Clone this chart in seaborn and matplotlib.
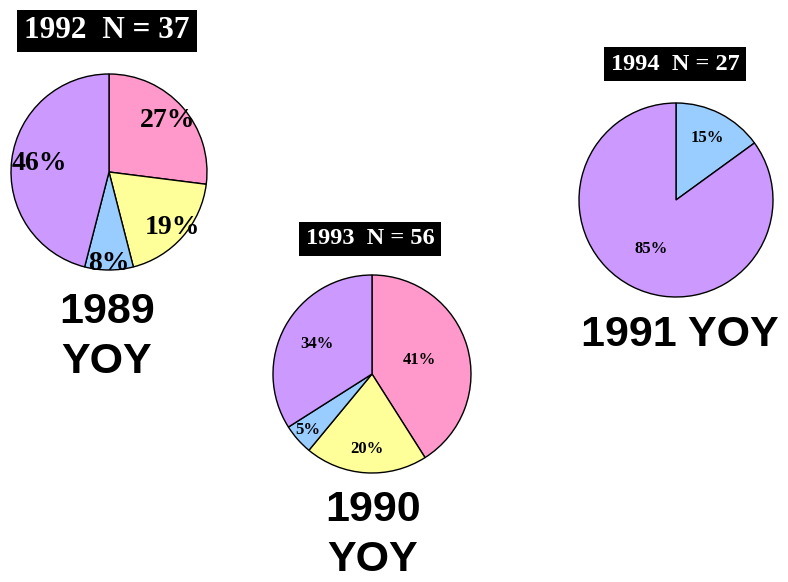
import matplotlib
matplotlib.use("Agg")
import matplotlib.pyplot as plt
import seaborn as sns

# catch composition per survey year (clockwise from 12 o'clock)
cats_1989 = ["pink", "yellow", "blue", "purple"]
pct_1989 = [27, 19, 8, 46]
cats_1990 = ["pink", "yellow", "blue", "purple"]
pct_1990 = [41, 20, 5, 34]
cats_1991 = ["blue", "purple"]
pct_1991 = [15, 85]

titles = ["1992  N = 37", "1993  N = 56", "1994  N = 27"]
names = ["1989\nYOY", "1990\nYOY", "1991 YOY"]

sns.set_theme(style="white")
plt.rcParams['font.family'] = ['Liberation Serif', 'DejaVu Serif']

colors = {"pink": "#FF99CC", "yellow": "#FFFF99", "blue": "#99CCFF", "purple": "#CC99FF"}

W, H = 788, 582
fig = plt.figure(figsize=(W / 100, H / 100), dpi=100)
fig.patch.set_facecolor("white")


def px_axes(cx, cy, r):
    return fig.add_axes([(cx - r) / W, (H - cy - r) / H, 2 * r / W, 2 * r / H])


def draw_pie(cx, cy, r, cats, vals, fsize, dists):
    ax = px_axes(cx, cy, r)
    wedges, _, autotexts = ax.pie(
        vals, colors=[colors[c] for c in cats], startangle=90, counterclock=False,
        autopct=lambda p: f"{p:.0f}%", pctdistance=1.0,
        wedgeprops=dict(edgecolor="black", linewidth=1.0),
        textprops=dict(fontsize=fsize, fontweight="bold", color="black"))
    for t, d in zip(autotexts, dists):
        x, y = t.get_position()
        t.set_position((x * d, y * d))
    ax.set_xlim(-1, 1)
    ax.set_ylim(-1, 1)
    ax.set_aspect("equal")
    ax.axis("off")
    return ax


draw_pie(109, 172, 98, cats_1989, pct_1989, 20, [0.8, 0.86, 0.93, 0.72])
draw_pie(372, 374, 99, cats_1990, pct_1990, 12, [0.5, 0.76, 0.86, 0.63])
draw_pie(676, 200, 97, cats_1991, pct_1991, 12, [0.72, 0.57])

fig.text(107 / W, 1 - 31 / H, titles[0], ha="center", va="center", color="white",
         fontsize=22.5, fontweight="bold",
         bbox=dict(facecolor="black", edgecolor="none", pad=5))
fig.text(370 / W, 1 - 239 / H, titles[1], ha="center", va="center", color="white",
         fontsize=17.5, fontweight="bold",
         bbox=dict(facecolor="black", edgecolor="none", pad=4.5))
fig.text(675 / W, 1 - 64 / H, titles[2], ha="center", va="center", color="white",
         fontsize=17.5, fontweight="bold",
         bbox=dict(facecolor="black", edgecolor="none", pad=4.5))

for (x, y), s in zip([(107, 337), (373, 535), (680, 335)], names):
    fig.text(x / W, 1 - y / H, s, ha="center", va="center", fontsize=31,
             fontweight="bold", color="black",
             family=["Liberation Sans", "DejaVu Sans"], linespacing=1.3)

fig.savefig("out.png", dpi=100)
